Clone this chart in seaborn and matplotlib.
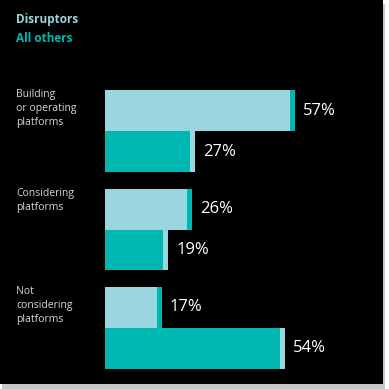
import numpy as np
import pandas as pd
import seaborn as sns
import matplotlib.pyplot as plt
from matplotlib.patches import Rectangle
from matplotlib.transforms import blended_transform_factory

categories = ["Building\nor operating\nplatforms", "Considering\nplatforms", "Not\nconsidering\nplatforms"]
groups = ["Disruptors", "All others"]
disruptors = [57, 26, 17]
all_others = [27, 19, 54]

light = "#9ad6df"
teal = "#00b8b2"
pal = {"Disruptors": light, "All others": teal}
other = {"Disruptors": teal, "All others": light}

df = pd.DataFrame({
    "category": categories * 2,
    "group": [groups[0]] * 3 + [groups[1]] * 3,
    "value": disruptors + all_others,
})

sns.set_style("white")
plt.rcParams["font.family"] = ["Open Sans", "DejaVu Sans"]

W = 389
fig = plt.figure(figsize=(3.89, 3.89), dpi=100, facecolor="white")
# black panel with a soft grey shadow
fig.patches.append(Rectangle((2 / W, 0), 383 / W, 385 / W, transform=fig.transFigure,
                             facecolor="#c8c8c8", edgecolor="none", zorder=-2))
fig.patches.append(Rectangle((0, 5 / W), 383 / W, 384 / W, transform=fig.transFigure,
                             facecolor="black", edgecolor="none", zorder=-1))

ax = fig.add_axes([105 / W, 12 / W, 333 / W, 295 / W])
ax.set_facecolor("none")
sns.barplot(data=df, y="category", x="value", hue="group", orient="h",
            palette=pal, width=0.83, saturation=1, legend=False,
            linewidth=0, ax=ax)
ax.set_xlim(0, 100)
ax.set_ylim(2.5, -0.5)
ax.axis("off")

# thin end cap in the other colour, then the value label
sliver = 1.5
for cont, g in zip(ax.containers, groups):
    for bar, v in zip(cont, df.loc[df.group == g, "value"]):
        y = bar.get_y()
        h = bar.get_height()
        ax.barh(y + h / 2, sliver, left=v - sliver, height=h, color=other[g],
                edgecolor="none", linewidth=0)
        ax.text(v + 2.5, y + h / 2, f"{v}%", color="white", fontsize=12,
                va="center", ha="left")

# category labels aligned with the top of each disruptor bar
tr = blended_transform_factory(fig.transFigure, ax.transData)
for bar, cat in zip(ax.containers[0], categories):
    ax.text(16 / W, bar.get_y() - 0.01, cat, transform=tr, color="#d8d8d8",
            fontsize=7.5, va="top", ha="left", linespacing=1.35)

fig.text(16 / W, 1 - 20 / W, "Disruptors", color=light, fontsize=8.5,
         fontweight="bold", va="center")
fig.text(16 / W, 1 - 38 / W, "All others", color=teal, fontsize=8.5,
         fontweight="bold", va="center")

fig.savefig("out.png", dpi=100, facecolor="white")
